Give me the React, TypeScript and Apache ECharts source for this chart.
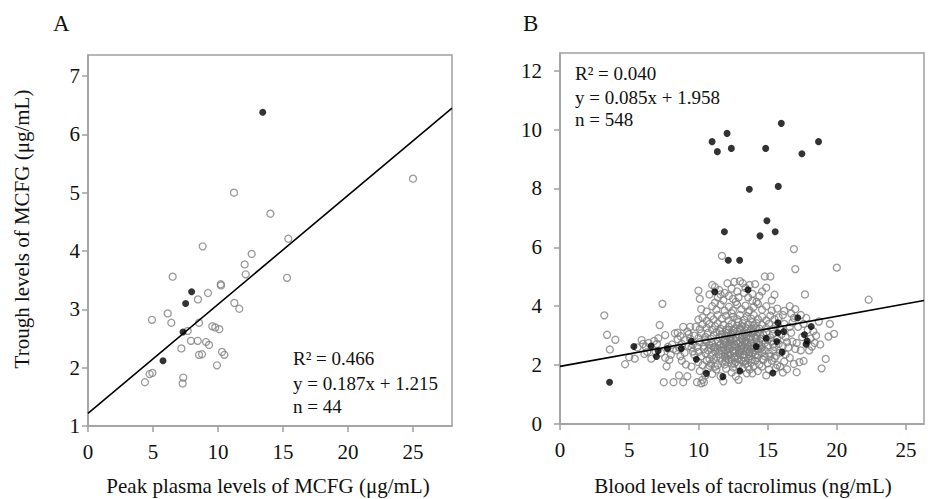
import React, { useEffect, useRef } from "react";
import * as echarts from "echarts";

// ---------- Panel A data ----------
const A_OPEN: number[][] = [
  [25.0, 5.24], [11.23, 5.0], [14.03, 4.64], [15.41, 4.21], [8.82, 4.08], [12.59, 3.95],
  [12.05, 3.77], [12.13, 3.6], [6.51, 3.56], [15.31, 3.54], [10.21, 3.43], [10.23, 3.41],
  [9.23, 3.28], [8.46, 3.17], [11.26, 3.11], [11.64, 3.01], [6.13, 2.93], [4.92, 2.82],
  [6.41, 2.77], [8.54, 2.77], [9.56, 2.71], [9.79, 2.69], [10.1, 2.66], [7.67, 2.63],
  [7.92, 2.46], [8.44, 2.46], [9.08, 2.44], [9.31, 2.39], [7.18, 2.33], [10.31, 2.27],
  [10.49, 2.22], [8.54, 2.22], [8.77, 2.23], [9.92, 2.04], [4.95, 1.91], [4.74, 1.89],
  [4.38, 1.75], [7.33, 1.83], [7.28, 1.73],
];
const A_FILLED: number[][] = [
  [13.44, 6.38], [7.97, 3.3], [7.51, 3.1], [7.31, 2.61], [5.77, 2.12],
];
const A_FIT = [0.187, 1.215]; // slope, intercept
const A_TEXT = ["R\u00B2 = 0.466", "y = 0.187x + 1.215", "n = 44"];

// ---------- Panel B data ----------
const B_OPEN_LEFT: number[][] = [
  [3.2, 3.69], [3.4, 3.03], [3.6, 2.53], [4.0, 2.86], [4.7, 2.03], [5.0, 2.27], [5.4, 2.22],
  [5.9, 2.85], [6.0, 2.72], [6.2, 2.62], [6.3, 2.45], [6.1, 2.38], [6.6, 2.22], [6.9, 2.46],
  [7.2, 3.36], [7.1, 2.91], [7.4, 4.08], [7.6, 3.02], [7.5, 1.42], [7.7, 1.96], [7.3, 2.42],
  [7.9, 2.18], [8.1, 2.7], [8.3, 3.08], [8.0, 2.35], [8.5, 2.88], [8.6, 1.65], [8.2, 1.42],
  [8.9, 3.3], [8.9, 1.42], [8.7, 2.98], [8.4, 2.5], [8.8, 2.72], [9.2, 3.14], [9.2, 1.62],
  [9.0, 2.42], [9.3, 2.65], [9.1, 2.02], [8.7, 2.3], [9.4, 2.9], [9.6, 2.46], [9.5, 1.95],
  [9.3, 3.05], [6.8, 2.82], [6.4, 2.75], [5.6, 2.6], [7.8, 2.62], [7.0, 2.72], [8.6, 2.6],
  [9.0, 2.85], [8.2, 2.55], [8.8, 2.15], [9.5, 2.6], [9.4, 3.3], [7.6, 2.25], [8.5, 3.1],
];
const B_OPEN_RIGHT: number[][] = [
  [16.9, 5.94], [17.0, 5.26], [20.0, 5.31], [22.3, 4.22], [17.7, 4.4], [19.5, 3.4], [19.4, 2.97],
  [19.8, 3.06], [19.2, 2.21], [18.9, 1.89], [18.7, 3.48], [18.2, 2.63], [17.6, 2.14], [17.1, 1.76],
  [16.9, 2.04], [16.4, 1.86], [17.0, 2.55], [18.4, 2.75], [17.9, 3.2], [18.1, 2.9], [17.5, 2.95],
  [17.2, 3.3], [16.8, 3.45], [16.7, 3.75], [17.0, 3.9], [16.6, 4.0], [17.8, 3.6], [18.5, 3.0],
  [17.4, 2.5], [16.8, 2.8], [17.3, 2.1], [16.6, 2.25], [18.0, 2.5], [16.7, 3.1], [17.6, 3.4],
  [16.9, 3.6], [16.5, 2.6], [17.1, 2.75], [18.3, 3.15], [16.6, 3.3], [17.4, 3.7], [18.8, 2.7],
];
const B_OPEN_TOP: number[][] = [
  [11.7, 5.71], [14.8, 5.01], [15.2, 5.01], [14.9, 4.63], [15.5, 4.39], [10.0, 4.53], [10.1, 4.25],
  [11.0, 4.72], [11.2, 4.65], [11.5, 4.55], [12.1, 4.78], [12.6, 4.83], [13.0, 4.85], [13.2, 4.78],
  [13.7, 4.72], [14.1, 4.75], [13.9, 4.42], [11.9, 4.45], [12.4, 4.6], [14.4, 4.35], [11.4, 4.3],
  [12.8, 4.5], [13.4, 4.62], [11.8, 4.2], [14.6, 4.5], [15.3, 4.2], [10.8, 4.4], [12.2, 4.35],
  [13.6, 4.3], [14.2, 4.15], [12.9, 4.3], [13.3, 4.45], [11.6, 4.4], [12.5, 4.25],
];
const B_OPEN_BOTTOM: number[][] = [
  [9.9, 1.42], [10.2, 1.38], [10.3, 1.5], [10.5, 1.65], [10.1, 1.8], [11.0, 1.7], [11.3, 1.85],
  [11.8, 1.45], [12.4, 1.75], [12.9, 1.5], [13.5, 1.72], [13.9, 1.72], [14.3, 1.8], [14.9, 1.65],
  [15.6, 1.9], [16.1, 1.75], [10.7, 1.9], [12.0, 1.88], [13.2, 1.9], [14.6, 1.95], [15.1, 1.85],
  [11.6, 1.62], [10.4, 1.42], [12.7, 1.62], [11.2, 1.95], [12.5, 1.92], [13.7, 1.85], [15.9, 1.95],
];
const B_OPEN_CORE: number[][] = [
  [10.0, 2.1], [10.3, 2.0], [10.6, 2.15], [10.9, 2.05], [11.1, 2.2], [11.4, 2.0], [11.7, 2.12],
  [11.9, 2.02], [12.2, 2.18], [12.4, 2.05], [12.7, 2.1], [12.9, 2.0], [13.1, 2.16], [13.4, 2.04],
  [13.6, 2.2], [13.8, 2.08], [14.1, 2.14], [14.4, 2.02], [14.7, 2.18], [15.0, 2.06], [15.3, 2.15],
  [15.7, 2.0], [16.2, 2.12], [10.8, 1.98], [12.0, 2.25], [13.3, 2.26], [14.0, 1.96], [15.5, 2.24],
  [9.7, 2.35], [10.0, 2.45], [10.2, 2.3], [10.5, 2.4], [10.7, 2.5], [11.0, 2.33], [11.2, 2.46],
  [11.5, 2.38], [11.7, 2.5], [11.9, 2.3], [12.1, 2.42], [12.3, 2.35], [12.5, 2.48], [12.7, 2.3],
  [12.9, 2.4], [13.1, 2.5], [13.3, 2.36], [13.5, 2.45], [13.7, 2.3], [13.9, 2.42], [14.1, 2.5],
  [14.3, 2.34], [14.6, 2.44], [14.8, 2.3], [15.1, 2.4], [15.4, 2.5], [15.6, 2.32], [15.9, 2.42],
  [16.3, 2.36], [11.3, 2.28], [12.6, 2.26], [13.8, 2.55], [14.5, 2.56], [12.2, 2.56], [10.9, 2.58],
  [9.6, 2.7], [9.9, 2.62], [10.1, 2.78], [10.4, 2.66], [10.6, 2.8], [10.8, 2.68], [11.0, 2.75],
  [11.2, 2.62], [11.4, 2.8], [11.6, 2.7], [11.8, 2.6], [12.0, 2.76], [12.2, 2.66], [12.4, 2.82],
  [12.6, 2.7], [12.8, 2.6], [13.0, 2.78], [13.2, 2.68], [13.4, 2.82], [13.6, 2.64], [13.8, 2.76],
  [14.0, 2.66], [14.2, 2.8], [14.4, 2.68], [14.6, 2.62], [14.8, 2.75], [15.0, 2.66], [15.3, 2.8],
  [15.5, 2.62], [15.8, 2.72], [16.1, 2.65], [16.4, 2.78], [12.3, 2.72], [13.5, 2.72], [11.5, 2.66],
  [9.7, 3.0], [10.0, 2.92], [10.2, 3.08], [10.5, 2.96], [10.7, 3.1], [10.9, 2.9], [11.1, 3.02],
  [11.3, 3.12], [11.5, 2.94], [11.7, 3.05], [11.9, 2.9], [12.1, 3.1], [12.3, 2.98], [12.5, 3.08],
  [12.7, 2.92], [12.9, 3.04], [13.1, 2.9], [13.3, 3.12], [13.5, 3.0], [13.7, 2.92], [13.9, 3.08],
  [14.1, 2.96], [14.3, 3.1], [14.5, 2.9], [14.7, 3.02], [14.9, 3.12], [15.2, 2.94], [15.4, 3.06],
  [15.7, 2.9], [16.0, 3.04], [16.3, 2.95], [12.0, 3.0], [13.2, 3.02], [14.2, 3.0],
  [9.8, 3.3], [10.1, 3.22], [10.3, 3.38], [10.6, 3.26], [10.8, 3.4], [11.0, 3.2], [11.2, 3.32],
  [11.4, 3.42], [11.6, 3.24], [11.8, 3.36], [12.0, 3.2], [12.2, 3.3], [12.4, 3.4], [12.6, 3.24],
  [12.8, 3.34], [13.0, 3.2], [13.2, 3.42], [13.4, 3.28], [13.6, 3.38], [13.8, 3.22], [14.0, 3.34],
  [14.2, 3.42], [14.4, 3.24], [14.6, 3.36], [14.9, 3.26], [15.1, 3.4], [15.4, 3.22], [15.6, 3.34],
  [15.9, 3.26], [16.2, 3.4], [12.9, 3.46], [13.9, 3.46],
  [10.0, 3.55], [10.3, 3.62], [10.6, 3.5], [10.9, 3.66], [11.1, 3.55], [11.4, 3.7], [11.7, 3.58],
  [12.0, 3.68], [12.2, 3.52], [12.5, 3.64], [12.8, 3.56], [13.0, 3.7], [13.3, 3.54], [13.5, 3.66],
  [13.8, 3.58], [14.0, 3.7], [14.3, 3.56], [14.6, 3.64], [14.9, 3.52], [15.2, 3.68], [15.5, 3.56],
  [15.8, 3.62], [16.1, 3.7], [12.4, 3.76], [13.6, 3.8],
  [10.2, 3.9], [10.6, 3.82], [11.0, 4.0], [11.3, 3.88], [11.6, 4.05], [11.9, 3.85], [12.2, 3.98],
  [12.5, 3.86], [12.8, 4.05], [13.1, 3.9], [13.4, 4.02], [13.7, 3.86], [14.0, 3.98], [14.3, 4.08],
  [14.6, 3.88], [14.9, 4.0], [15.3, 3.85], [15.7, 3.92], [16.2, 3.84], [12.7, 4.15], [13.9, 4.18],
  [11.2, 4.12],
  [11.6, 2.25], [11.9, 2.4], [12.1, 2.6], [12.4, 2.2], [12.5, 2.9], [12.7, 2.5], [12.8, 3.15],
  [13.0, 2.35], [13.1, 2.65], [13.2, 2.85], [13.4, 2.15], [13.5, 2.55], [13.6, 3.1], [13.7, 2.45],
  [13.8, 2.95], [13.9, 2.2], [14.0, 2.6], [14.1, 2.35], [14.2, 2.9], [14.3, 2.55], [12.3, 2.85],
  [12.6, 2.05], [12.9, 2.75], [13.3, 2.6], [11.8, 2.85], [12.0, 2.5], [14.4, 2.75], [14.6, 2.2],
  [12.2, 3.2], [13.0, 3.25], [11.4, 2.55], [11.7, 2.95], [13.6, 1.95], [14.8, 2.5], [15.0, 2.85],
  [15.2, 2.3], [15.4, 2.7], [10.8, 2.2], [11.1, 2.6], [10.5, 2.85], [10.4, 2.55],
  [12.15, 2.32], [12.45, 2.62], [12.75, 2.82], [13.05, 2.55], [13.25, 2.12], [13.45, 2.95],
  [13.65, 2.38], [13.85, 2.65], [12.55, 3.18], [12.85, 2.22], [13.15, 3.32], [13.55, 3.22],
  [12.35, 3.05], [11.85, 2.7], [14.25, 2.25], [14.45, 3.05], [11.55, 3.15], [12.65, 2.42],
  [13.95, 3.15], [13.35, 2.75], [12.25, 2.92], [11.95, 2.15], [14.15, 3.25], [12.95, 2.48],
];
const B_FILLED: number[][] = [
  [10.99, 9.59], [12.07, 9.87], [11.37, 9.25], [12.38, 9.36], [14.86, 9.36], [15.99, 10.21],
  [17.48, 9.18], [18.68, 9.59], [13.68, 7.97], [15.77, 8.07], [14.95, 6.9], [11.88, 6.53],
  [15.55, 6.53], [14.45, 6.39], [12.16, 5.56], [12.98, 5.56], [11.18, 4.49], [13.58, 4.56],
  [17.18, 3.61], [15.74, 3.44], [15.74, 3.1], [16.17, 3.14], [18.15, 3.31], [17.66, 3.03],
  [17.78, 2.71], [17.86, 2.82], [14.9, 2.91], [15.67, 2.8], [14.18, 2.63], [16.05, 2.44],
  [15.38, 1.73], [13.0, 1.8], [11.77, 1.61], [10.57, 1.72], [9.85, 2.2], [9.49, 2.81],
  [8.77, 2.56], [7.76, 2.56], [7.09, 2.49], [6.97, 2.29], [6.58, 2.65], [5.34, 2.63], [3.58, 1.42],
];
const B_FIT = [0.085, 1.958];
const B_TEXT = ["R\u00B2 = 0.040", "y = 0.085x + 1.958", "n = 548"];

const X_TICKS = [0, 5, 10, 15, 20, 25];
const A_Y_TICKS = [1, 2, 3, 4, 5, 6, 7];
const B_Y_TICKS = [0, 2, 4, 6, 8, 10, 12];
const A_X_NAME = "Peak plasma levels of MCFG (\u03BCg/mL)";
const A_Y_NAME = "Trough levels of MCFG (\u03BCg/mL)";
const B_X_NAME = "Blood levels of tacrolimus (ng/mL)";

const FONT = "'Liberation Serif', 'Times New Roman', serif";
const AXIS_GRAY = "#a0a0a0";
const POINT_GRAY = "#808080";

function fitLine(fit: number[], xmax: number) {
  return [
    [0, fit[1]],
    [xmax, fit[0] * xmax + fit[1]],
  ];
}

function xAxisDef(gridIndex: number, max: number) {
  return {
    gridIndex,
    type: "value",
    min: 0,
    max,
    axisLine: { show: true, onZero: false, lineStyle: { color: AXIS_GRAY, width: 1.5 } },
    axisTick: { show: true, length: 6, inside: false, customValues: X_TICKS, lineStyle: { color: AXIS_GRAY, width: 1.5 } },
    axisLabel: { customValues: X_TICKS, fontSize: 21, fontFamily: FONT, color: "#111", margin: 15 },
    splitLine: { show: false },
  };
}

function yAxisDef(gridIndex: number, min: number, max: number, ticks: number[], margin: number) {
  return {
    gridIndex,
    type: "value",
    min,
    max,
    axisLine: { show: true, onZero: false, lineStyle: { color: AXIS_GRAY, width: 1.5 } },
    axisTick: { show: true, length: 6, inside: false, customValues: ticks, lineStyle: { color: AXIS_GRAY, width: 1.5 } },
    axisLabel: { customValues: ticks, fontSize: 21, fontFamily: FONT, color: "#111", margin },
    splitLine: { show: false },
  };
}

function openSeries(idx: number, data: number[][]) {
  return {
    type: "scatter",
    xAxisIndex: idx,
    yAxisIndex: idx,
    data,
    symbol: "circle",
    symbolSize: 7,
    itemStyle: { color: "rgba(0,0,0,0)", borderColor: POINT_GRAY, borderWidth: 1.3 },
    silent: true,
    z: 2,
  };
}

function filledSeries(idx: number, data: number[][]) {
  return {
    type: "scatter",
    xAxisIndex: idx,
    yAxisIndex: idx,
    data,
    symbol: "circle",
    symbolSize: 7,
    itemStyle: { color: "#000" },
    silent: true,
    z: 3,
  };
}

function lineSeries(idx: number, data: number[][]) {
  return {
    type: "line",
    xAxisIndex: idx,
    yAxisIndex: idx,
    data,
    showSymbol: false,
    symbol: "none",
    lineStyle: { color: "#000", width: 1.6 },
    silent: true,
    z: 4,
  };
}

function textBlock(lines: string[], x: number, ys: number[]) {
  return lines.map((t, i) => ({
    type: "text",
    x,
    y: ys[i],
    style: { text: t, fontSize: 19, fontFamily: FONT, fill: "#111", verticalAlign: "middle" },
    z: 10,
  }));
}

export default function App() {
  const ref = useRef<HTMLDivElement>(null);
  useEffect(() => {
    if (!ref.current) return;
    const chart = echarts.init(ref.current, undefined, { renderer: "svg" });
    const AX_MAX = 28;
    const BX_MAX = 26.3;
    const bOpen = [...B_OPEN_LEFT, ...B_OPEN_RIGHT, ...B_OPEN_TOP, ...B_OPEN_BOTTOM, ...B_OPEN_CORE];
    chart.setOption({
      animation: false,
      backgroundColor: "#fff",
      grid: [
        { left: 88, top: 55, width: 364, height: 371, show: true, borderColor: AXIS_GRAY, borderWidth: 1.5, backgroundColor: "transparent" },
        { left: 560, top: 53, width: 364, height: 371, show: true, borderColor: AXIS_GRAY, borderWidth: 1.5, backgroundColor: "transparent" },
      ],
      xAxis: [xAxisDef(0, AX_MAX), xAxisDef(1, BX_MAX)],
      yAxis: [yAxisDef(0, 1, 7.36, A_Y_TICKS, 8), yAxisDef(1, 0, 12.6, B_Y_TICKS, 18)],
      series: [
        openSeries(0, A_OPEN),
        filledSeries(0, A_FILLED),
        lineSeries(0, fitLine(A_FIT, AX_MAX)),
        openSeries(1, bOpen),
        filledSeries(1, B_FILLED),
        lineSeries(1, fitLine(B_FIT, BX_MAX)),
      ],
      graphic: [
        { type: "text", x: 53, y: 23, style: { text: "A", fontSize: 23, fontFamily: FONT, fill: "#111", verticalAlign: "middle" } },
        { type: "text", x: 523, y: 23, style: { text: "B", fontSize: 23, fontFamily: FONT, fill: "#111", verticalAlign: "middle" } },
        {
          type: "text",
          x: 22,
          y: 229,
          rotation: Math.PI / 2,
          style: { text: A_Y_NAME, fontSize: 21, fontFamily: FONT, fill: "#111", align: "center", verticalAlign: "middle" },
        },
        {
          type: "text",
          x: 268,
          y: 486,
          style: { text: A_X_NAME, fontSize: 21, fontFamily: FONT, fill: "#111", align: "center", verticalAlign: "middle" },
        },
        {
          type: "text",
          x: 743,
          y: 486,
          style: { text: B_X_NAME, fontSize: 21, fontFamily: FONT, fill: "#111", align: "center", verticalAlign: "middle" },
        },
        ...textBlock(A_TEXT, 293, [358, 383, 406]),
        ...textBlock(B_TEXT, 575, [73, 97, 119]),
      ],
    });
    return () => chart.dispose();
  }, []);
  return <div ref={ref} style={{ position: "fixed", left: 0, top: 0, width: 930, height: 499 }} />;
}
